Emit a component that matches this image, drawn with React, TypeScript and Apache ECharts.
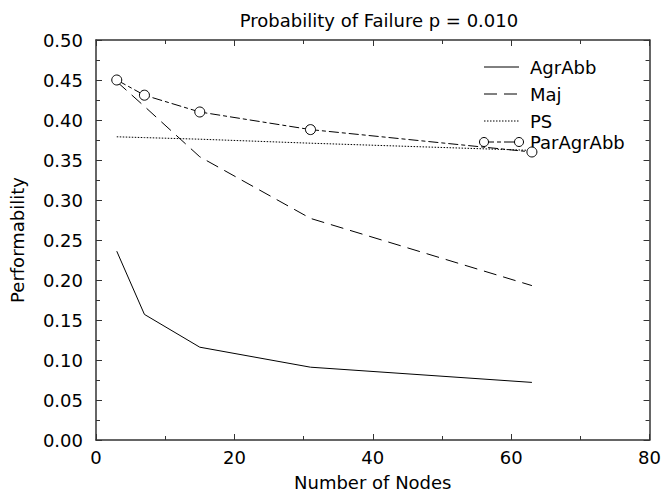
import React, { useEffect, useRef } from "react";
import * as echarts from "echarts";

// Number of nodes in the system
const nodes = [3, 7, 15, 31, 63];

// Performability for each protocol
const agrAbb = [0.236, 0.157, 0.116, 0.091, 0.072];
const maj = [0.448, 0.417, 0.354, 0.277, 0.193];
const ps = [0.379, 0.378, 0.376, 0.371, 0.362];
const parAgrAbb = [0.45, 0.431, 0.41, 0.388, 0.36];

const seriesNames = ["AgrAbb", "Maj", "PS", "ParAgrAbb"];

const FONT = "DejaVu Sans, Verdana, sans-serif";
const FONT_SIZE = 18;
const AXIS_COLOR = "#333";

const toPairs = (ys: number[]) => nodes.map((x, i) => [x, ys[i]]);

export default function App() {
  const ref = useRef<HTMLDivElement>(null);

  useEffect(() => {
    if (!ref.current) return;
    const chart = echarts.init(ref.current, undefined, { renderer: "svg" });

    const axisCommon = {
      axisLine: { show: true, onZero: false, lineStyle: { color: AXIS_COLOR, width: 1.5 } },
      axisTick: { show: true, inside: true, length: 6, lineStyle: { color: AXIS_COLOR, width: 1 } },
      minorTick: { show: true, splitNumber: 2, length: 4, lineStyle: { color: AXIS_COLOR, width: 1 } },
      splitLine: { show: false },
    };

    const xAxisBase = { type: "value" as const, min: 0, max: 80, interval: 20, ...axisCommon };
    const yAxisBase = { type: "value" as const, min: 0, max: 0.5, interval: 0.05, ...axisCommon };

    const lineSeries = (name: string, data: number[], lineStyle: any, extra: any = {}) => ({
      name,
      type: "line",
      data: toPairs(data),
      symbol: "none",
      lineStyle: { color: "#000", width: 1, ...lineStyle },
      itemStyle: { color: "#000" },
      ...extra,
    });

    // Hand-drawn key in the upper right of the plot area
    const keyX0 = 484;
    const keyX1 = 519;
    const keyTextX = 530;
    const keyRows = [67, 94, 121, 142];
    const keyDashes: (number[] | undefined)[] = [undefined, [13, 7], [1.5, 1.5], [10, 3, 4, 3]];
    const keyGraphics: any[] = [];
    seriesNames.forEach((name, i) => {
      const y = keyRows[i];
      keyGraphics.push({
        type: "line",
        shape: { x1: keyX0, y1: y, x2: keyX1, y2: y },
        style: { stroke: "#000", lineWidth: 1, lineDash: keyDashes[i] },
      });
      keyGraphics.push({
        type: "text",
        x: keyTextX,
        y,
        style: {
          text: name,
          fill: "#000",
          font: `${FONT_SIZE}px ${FONT}`,
          verticalAlign: "middle",
        },
      });
    });
    [keyX0, keyX1].forEach((cx) =>
      keyGraphics.push({
        type: "circle",
        shape: { cx, cy: keyRows[3], r: 4.5 },
        style: { stroke: "#000", fill: "#fff", lineWidth: 1 },
      })
    );

    const labelText = { fontFamily: FONT, fontSize: FONT_SIZE, color: "#000" };

    chart.setOption({
      animation: false,
      backgroundColor: "#fff",
      title: {
        text: "Probability of Failure p = 0.010",
        left: 374,
        textAlign: "center",
        top: 6,
        textStyle: { ...labelText, fontWeight: "normal" },
      },
      grid: { left: 96, right: 12, top: 40, bottom: 52 },
      xAxis: [
        {
          ...xAxisBase,
          position: "bottom",
          name: "Number of Nodes",
          nameLocation: "middle",
          nameGap: 33,
          nameTextStyle: labelText,
          axisLabel: { ...labelText, margin: 8 },
        },
        { ...xAxisBase, position: "top", axisLabel: { show: false } },
      ],
      yAxis: [
        {
          ...yAxisBase,
          position: "left",
          name: "Performability",
          nameLocation: "middle",
          nameGap: 70,
          nameTextStyle: labelText,
          axisLabel: { ...labelText, margin: 13, formatter: (v: number) => v.toFixed(2) },
        },
        { ...yAxisBase, position: "right", axisLabel: { show: false } },
      ],
      series: [
        lineSeries("AgrAbb", agrAbb, { type: "solid" }),
        lineSeries("Maj", maj, { type: [13, 7] }),
        lineSeries("PS", ps, { type: [1.5, 1.5] }),
        lineSeries("ParAgrAbb", parAgrAbb, { type: [10, 3, 4, 3] }, {
          symbol: "circle",
          symbolSize: 10,
          itemStyle: { color: "#fff", borderColor: "#000", borderWidth: 1 },
        }),
      ],
      graphic: keyGraphics,
    });

    return () => chart.dispose();
  }, []);

  return (
    <div
      ref={ref}
      style={{ position: "fixed", left: 0, top: 0, width: 664, height: 496, background: "#fff" }}
    />
  );
}
